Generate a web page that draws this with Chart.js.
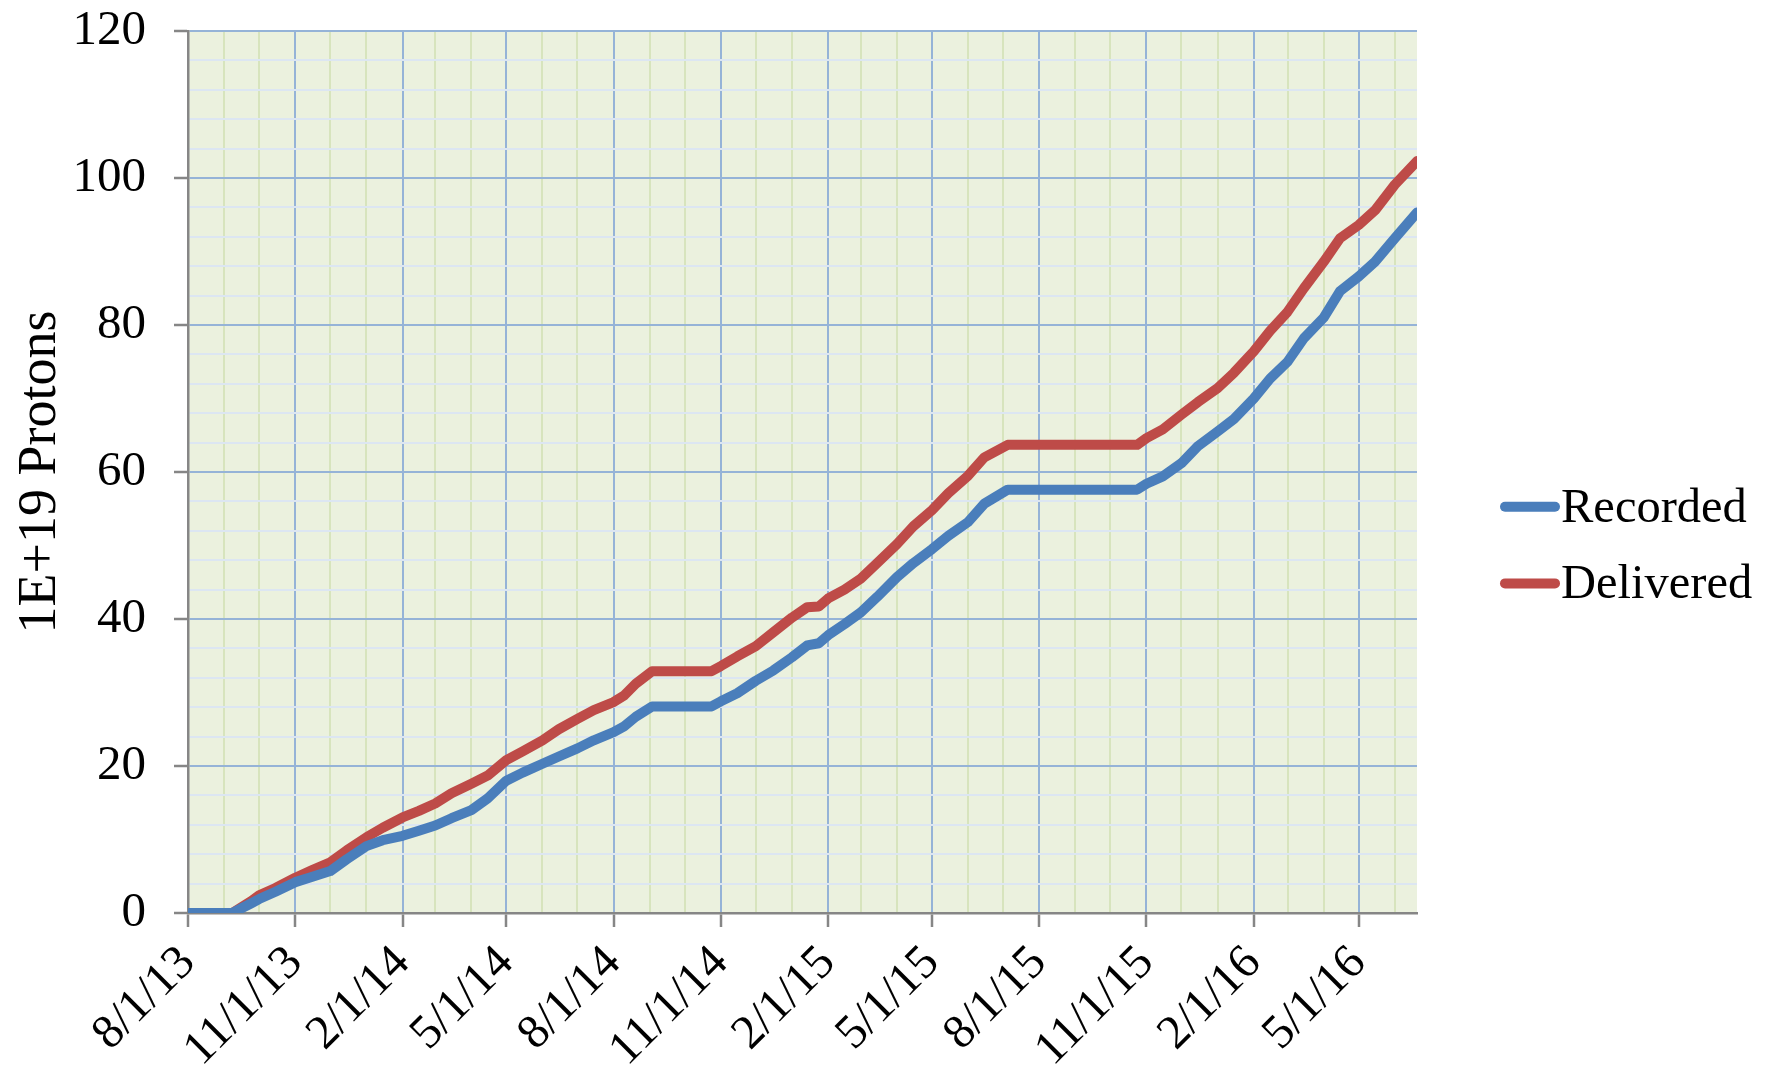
<!DOCTYPE html>
<html><head><meta charset="utf-8">
<script src="https://cdn.jsdelivr.net/npm/chart.js@4/dist/chart.umd.min.js"></script>
<style>html,body{margin:0;padding:0;background:#fff}#wrap{width:1772px;height:1074px;position:relative}</style>
</head><body><div id="wrap"><canvas id="c" width="1772" height="1074"></canvas></div>
<script>
// ---- data ----
const dates = ['8/1/13','9/8/13','9/24/13','10/1/13','10/15/13','11/1/13','11/15/13','12/1/13','12/15/13',
  '1/1/14','1/15/14','2/1/14','2/15/14','3/1/14','3/15/14','4/1/14','4/15/14','5/1/14','5/15/14','6/1/14',
  '6/15/14','7/1/14','7/15/14','8/1/14','8/10/14','8/20/14','9/3/14','10/24/14','11/1/14','11/15/14','12/1/14',
  '12/16/14','1/1/15','1/14/15','1/24/15','2/1/15','2/15/15','3/1/15','3/15/15','4/1/15','4/15/15','5/1/15',
  '5/15/15','6/1/15','6/15/15','7/5/15','10/24/15','11/1/15','11/15/15','12/1/15','12/15/15','1/1/16',
  '1/15/16','2/1/16','2/15/16','3/1/16','3/15/16','4/1/16','4/15/16','5/1/16','5/15/16','6/1/16','6/20/16'];
const recorded = [0,0,1.3,1.9,2.9,4.2,4.9,5.7,7.3,
  9.1,9.9,10.5,11.2,11.9,12.9,14.0,15.6,18.0,19.1,20.3,
  21.3,22.4,23.5,24.6,25.4,26.7,28.1,28.1,28.8,29.9,31.6,
  33.0,34.8,36.4,36.7,37.8,39.3,40.9,43.0,45.7,47.6,49.5,
  51.3,53.2,55.7,57.6,57.6,58.4,59.4,61.2,63.5,65.5,
  67.2,70.0,72.7,75.0,78.2,81.0,84.6,86.6,88.6,91.8,95.3];
const delivered = [0,0,1.6,2.4,3.4,4.8,5.8,6.9,8.5,
  10.3,11.6,13.0,13.9,14.9,16.3,17.6,18.7,20.8,22.0,23.5,
  25.0,26.4,27.6,28.7,29.6,31.2,32.9,32.9,33.6,34.9,36.3,
  38.2,40.2,41.6,41.7,42.8,44.0,45.5,47.6,50.2,52.6,54.8,
  57.1,59.5,62.0,63.7,63.7,64.6,65.8,67.8,69.5,71.4,
  73.5,76.4,79.2,81.8,85.0,88.6,91.8,93.6,95.6,99.1,102.3];
const seriesNames = ['Recorded','Delivered'];
const seriesColors = ['#4A7EBB','#BE4B48'];
const monthTicks = ['8/1/13','9/1/13','10/1/13','11/1/13','12/1/13','1/1/14','2/1/14','3/1/14','4/1/14','5/1/14',
  '6/1/14','7/1/14','8/1/14','9/1/14','10/1/14','11/1/14','12/1/14','1/1/15','2/1/15','3/1/15','4/1/15','5/1/15',
  '6/1/15','7/1/15','8/1/15','9/1/15','10/1/15','11/1/15','12/1/15','1/1/16','2/1/16','3/1/16','4/1/16','5/1/16','6/1/16'];
const xTickLabels = ['8/1/13','11/1/13','2/1/14','5/1/14','8/1/14','11/1/14','2/1/15','5/1/15','8/1/15','11/1/15','2/1/16','5/1/16'];
const yMax = 120, yLabelStep = 20, yMinorStep = 4;
const yTitle = '1E+19 Protons';

// ---- helpers ----
function dayNum(s){const p=s.split('/').map(Number);return Math.round((Date.UTC(2000+p[2],p[0]-1,p[1])-Date.UTC(2013,7,1))/86400000);}
const xDays = dates.map(dayNum);
const monthDays = monthTicks.map(dayNum);
const labelMap = new Map(xTickLabels.map(s=>[dayNum(s),s]));
const FONT = "'Liberation Serif','Times New Roman',serif";
const AXIS = '#868686', MAJOR = '#95B3D7', MINORH = '#DCE6F2', MINORV = '#D7E4BD', BG = '#EBF1DE';

const bgPlugin = {id:'bg', beforeDraw(chart){const a=chart.chartArea,c=chart.ctx;c.save();c.fillStyle=BG;c.fillRect(a.left,a.top,a.right-a.left,a.bottom-a.top);c.restore();}};
const legendPlugin = {id:'customLegend', afterDraw(chart){
  const c=chart.ctx; c.save();
  chart.data.datasets.forEach((ds,i)=>{
    const yb = 521.7 + i*76.7, yl = 506.7 + i*76.7;
    c.strokeStyle = ds.borderColor; c.lineWidth = 10; c.lineCap='round';
    c.beginPath(); c.moveTo(1505,yl); c.lineTo(1555,yl); c.stroke();
    c.fillStyle='#000'; c.font = "48.5px "+FONT; c.textBaseline='alphabetic'; c.textAlign='left';
    c.fillText(ds.label, 1561, yb);
  });
  c.restore();
}};

new Chart(document.getElementById('c'), {
  type:'line',
  data:{datasets:[
    {label:seriesNames[0], data:xDays.map((x,i)=>({x, y:recorded[i]})), borderColor:seriesColors[0]},
    {label:seriesNames[1], data:xDays.map((x,i)=>({x, y:delivered[i]})), borderColor:seriesColors[1]}
  ]},
  options:{
    responsive:false, animation:false, devicePixelRatio:1,
    layout:{autoPadding:false, padding:{left:0, top:31, right:355, bottom:0}},
    elements:{point:{radius:0}, line:{borderWidth:10, tension:0, borderCapStyle:'round', borderJoinStyle:'round', fill:false}},
    plugins:{legend:{display:false}, tooltip:{enabled:false}},
    scales:{
      x:{type:'linear', min:0, max:xDays[xDays.length-1],
        afterBuildTicks:(s)=>{s.ticks = monthDays.map(v=>({value:v}));},
        afterFit:(s)=>{s.height = 161; s.paddingLeft = 0; s.paddingRight = 0;},
        border:{color:AXIS, width:2.5},
        grid:{color:(ctx)=>labelMap.has(ctx.tick && ctx.tick.value)?MAJOR:MINORV, lineWidth:2,
              tickColor:(ctx)=>labelMap.has(ctx.tick && ctx.tick.value)?AXIS:'rgba(0,0,0,0)', tickLength:14, tickWidth:2.5},
        ticks:{autoSkip:false, minRotation:45, maxRotation:45, padding:8, color:'#000', font:{family:FONT, size:48},
          callback:(v)=>labelMap.has(v)?labelMap.get(v):''}
      },
      y:{type:'linear', min:0, max:yMax,
        afterFit:(s)=>{s.width = 188; s.paddingTop = 0; s.paddingBottom = 0;},
        border:{color:AXIS, width:2.5},
        grid:{color:(ctx)=>(ctx.tick && ctx.tick.value % yLabelStep === 0)?MAJOR:MINORH, lineWidth:2,
              tickColor:(ctx)=>(ctx.tick && ctx.tick.value % yLabelStep === 0)?AXIS:'rgba(0,0,0,0)', tickLength:14, tickWidth:2.5},
        ticks:{stepSize:yMinorStep, autoSkip:false, padding:28, color:'#000', font:{family:FONT, size:49},
          callback:(v)=>v % yLabelStep === 0 ? String(v) : ''},
        title:{display:true, text:yTitle, color:'#000', font:{family:FONT, size:54}, padding:{top:8,bottom:0}}
      }
    }
  },
  plugins:[bgPlugin, legendPlugin]
});
</script></body></html>
